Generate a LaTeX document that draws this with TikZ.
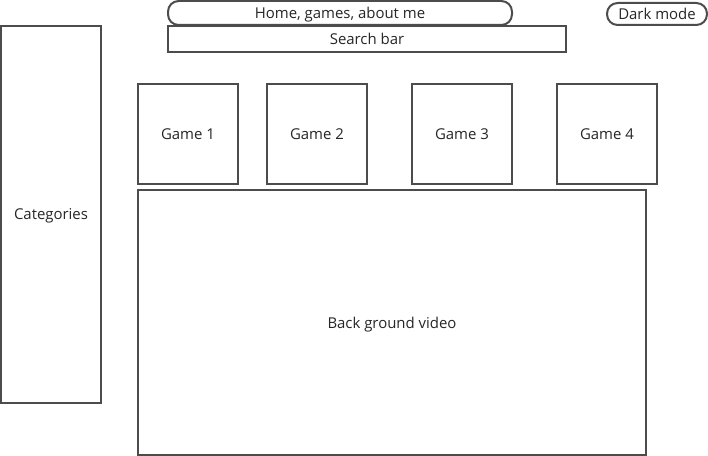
\documentclass[tikz,border=0pt]{standalone}
\usepackage{fontspec}
\setmainfont{Open Sans}
\begin{document}
\begin{tikzpicture}[x=0.75pt,y=-0.75pt,
  box/.style={draw=black!70,line width=1.5pt,fill=white,inner sep=0pt,
    font=\fontsize{11.2}{13}\selectfont,text=black!85,text depth=0pt},
  pill/.style={box,rounded corners=8pt}]
\useasboundingbox (0,0) rectangle (708,456);
\node[pill,minimum width=258pt,minimum height=18pt] (nav) at (340,13) {Home, games, about me};
\node[pill,minimum width=75pt,minimum height=16.5pt] (dark) at (657,14) {Dark mode};
\node[box,minimum width=298.5pt,minimum height=19.5pt] (search) at (367,39) {Search bar};
\node[box,minimum width=75pt,minimum height=282.75pt] (cat) at (51,214.5) {Categories};
\node[box,minimum width=75pt,minimum height=75pt] (g1) at (188,134) {Game 1};
\node[box,minimum width=75pt,minimum height=75pt] (g2) at (317,134) {Game 2};
\node[box,minimum width=75pt,minimum height=75pt] (g3) at (462,134) {Game 3};
\node[box,minimum width=75pt,minimum height=75pt] (g4) at (607,134) {Game 4};
\node[box,minimum width=381pt,minimum height=198.75pt] (bg) at (392,322.5) {Back ground video};
\end{tikzpicture}
\end{document}
